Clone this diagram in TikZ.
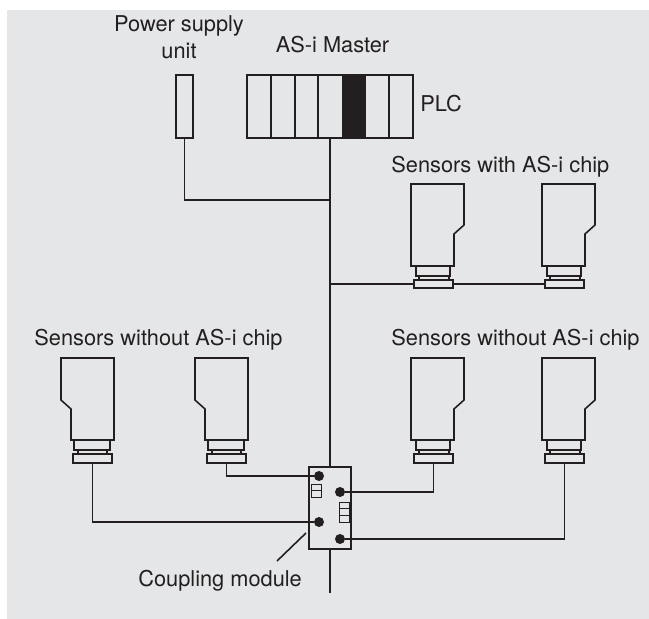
\documentclass[tikz,border=0pt]{standalone}
\usepackage{fontspec}
\setmainfont{TeX Gyre Heros}
\definecolor{panelgray}{RGB}{229,230,232}
\definecolor{inkblack}{RGB}{35,31,32}
\begin{document}
\begin{tikzpicture}[font=\fontsize{12.4}{14}\selectfont,
  wire/.style={draw=inkblack,line width=.9pt},
  finewire/.style={draw=inkblack,line width=.5pt},
  slot/.style={draw=inkblack,line width=.9pt,inner sep=0pt,outer sep=0pt,anchor=south west},
  basebar/.style={draw=inkblack,line width=.9pt,inner sep=0pt,outer sep=0pt,minimum width=.78cm,minimum height=.17cm},
  terminal/.style={circle,fill=inkblack,inner sep=0pt,outer sep=0pt,minimum size=.2cm},
  caption/.style={text=inkblack,inner sep=0pt}]
\useasboundingbox (0,0) rectangle (12.98,12.38);
\fill[panelgray] (.14,0) rectangle (12.98,12.18);
\node[caption,anchor=base] (supplytext) at (3.58,11.74) {Power supply};
\node[caption,anchor=base] (unittext) at (3.58,11.2) {unit};
\node[caption,anchor=base] (mastertext) at (6.65,11.32) {AS-i Master};
\node[caption,anchor=base west] (plctext) at (8.4,10.14) {PLC};
\node[caption,anchor=base west] (withtext) at (7.82,8.92) {Sensors with AS-i chip};
\node[caption,anchor=base west] (withoutleft) at (.68,5.46) {Sensors without AS-i chip};
\node[caption,anchor=base west] (withoutright) at (7.82,5.46) {Sensors without AS-i chip};
\node[caption,anchor=base west] (couplingtext) at (2.76,.64) {Coupling module};
\node[slot,minimum width=.34cm,minimum height=1.26cm] (supply) at (3.52,9.62) {};
\node[slot,minimum width=3.32cm,minimum height=1.26cm] (plc) at (4.94,9.62) {};
\fill[inkblack] (6.84,9.62) rectangle (7.32,10.88);
\draw[wire] (5.42,9.62) -- (5.42,10.88);
\draw[wire] (5.9,9.62) -- (5.9,10.88);
\draw[wire] (6.36,9.62) -- (6.36,10.88);
\draw[wire] (7.78,9.62) -- (7.78,10.88);
\draw[wire] (8.22,8.7) -- (9.28,8.7) -- (9.28,7.88) -- (9.08,7.7) -- (9.08,7.06) -- (8.22,7.06) -- cycle;
\draw[wire] (8.32,7.06) rectangle (9,6.86);
\draw[wire] (8.38,6.86) rectangle (8.98,6.78);
\node[basebar] (basea) at (8.67,6.7) {};
\draw[wire] (10.84,8.7) -- (11.9,8.7) -- (11.9,7.88) -- (11.7,7.7) -- (11.7,7.06) -- (10.84,7.06) -- cycle;
\draw[wire] (10.94,7.06) rectangle (11.62,6.86);
\draw[wire] (11,6.86) rectangle (11.6,6.78);
\node[basebar] (baseb) at (11.29,6.7) {};
\draw[wire] (8.22,5.22) -- (9.28,5.22) -- (9.28,4.38) -- (9.08,4.2) -- (9.08,3.58) -- (8.22,3.58) -- cycle;
\draw[wire] (8.32,3.58) rectangle (9,3.38);
\draw[wire] (8.38,3.38) rectangle (8.98,3.3);
\node[basebar] (basec) at (8.67,3.21) {};
\draw[wire] (10.84,5.22) -- (11.9,5.22) -- (11.9,4.38) -- (11.7,4.2) -- (11.7,3.58) -- (10.84,3.58) -- cycle;
\draw[wire] (10.94,3.58) rectangle (11.62,3.38);
\draw[wire] (11,3.38) rectangle (11.6,3.3);
\node[basebar] (based) at (11.29,3.21) {};
\draw[wire] (1.22,5.22) -- (2.28,5.22) -- (2.28,3.58) -- (1.42,3.58) -- (1.42,4.2) -- (1.22,4.38) -- cycle;
\draw[wire] (1.48,3.58) rectangle (2.2,3.38);
\draw[wire] (1.56,3.38) rectangle (2.14,3.3);
\node[basebar] (basee) at (1.85,3.21) {};
\draw[wire] (3.9,5.22) -- (4.96,5.22) -- (4.96,3.58) -- (4.1,3.58) -- (4.1,4.2) -- (3.9,4.38) -- cycle;
\draw[wire] (4.16,3.58) rectangle (4.88,3.38);
\draw[wire] (4.24,3.38) rectangle (4.82,3.3);
\node[basebar] (basef) at (4.53,3.21) {};
\node[slot,minimum width=.84cm,minimum height=1.64cm] (module) at (6.18,1.4) {};
\node[terminal] (dota) at (6.38,2.86) {};
\node[terminal] (dotb) at (6.8,2.54) {};
\node[terminal] (dotc) at (6.38,1.94) {};
\node[terminal] (dotd) at (6.8,1.6) {};
\draw[finewire] (6.22,2.44) rectangle (6.42,2.7);
\draw[finewire] (6.22,2.57) -- (6.42,2.57);
\draw[finewire] (6.78,1.94) rectangle (6.98,2.34);
\draw[finewire] (6.78,2.08) -- (6.98,2.08);
\draw[finewire] (6.78,2.22) -- (6.98,2.22);
\coordinate (busjoin) at (6.6,8.38);
\coordinate (sensorjoin) at (6.6,6.7);
\coordinate (busend) at (6.6,.52);
\coordinate (leaderstart) at (6.12,1.72);
\coordinate (leaderend) at (5.54,1.16);
\draw[wire] (plc.south) -- (module.north);
\draw[wire] (supply.south) |- (busjoin);
\draw[wire] (sensorjoin) -- (basea.west);
\draw[wire] (basea.east) -- (baseb.west);
\draw[wire] (dota) -| (basef.south);
\draw[wire] (dotc) -| (basee.south);
\draw[wire] (dotb) -| (basec.south);
\draw[wire] (dotd) -| (based.south);
\draw[wire] (module.south) -- (busend);
\draw[wire] (leaderstart) -- (leaderend);
\end{tikzpicture}
\end{document}
